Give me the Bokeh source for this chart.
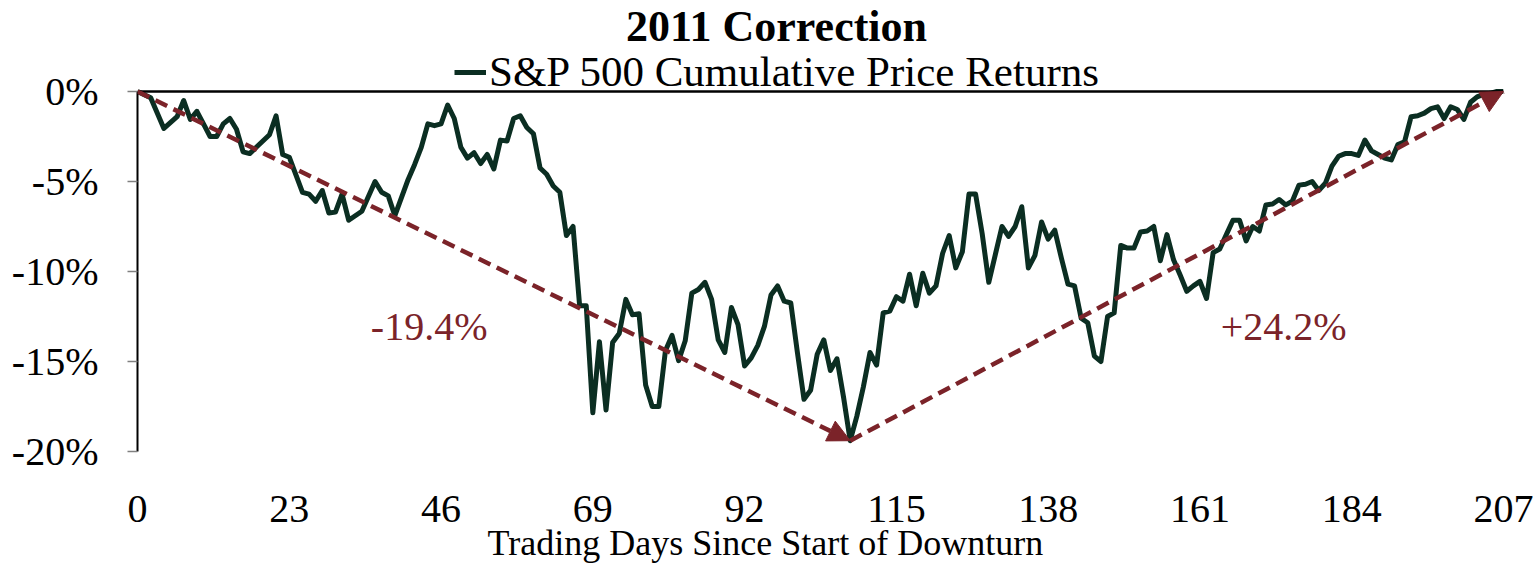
import numpy as np
from bokeh.plotting import figure
from bokeh.models import Range1d, FixedTicker, Span, Label, Arrow, NormalHead, Legend, LegendItem, Title
from bokeh.embed import file_html
from bokeh.resources import INLINE

# ---------------- data ----------------
days = [0, 2, 4, 6, 7, 8, 9, 10, 11, 12, 13, 14, 15, 16, 17, 18, 20, 21, 22, 23,
        25, 26, 27, 28, 29, 30, 31, 32, 34, 36, 37, 38, 39, 41, 42, 43, 44, 45, 46, 47,
        48, 49, 50, 51, 52, 53, 54, 55, 56, 57, 58, 59, 60, 61, 62, 63, 64, 65, 66, 67,
        68, 69, 70, 71, 72, 73, 74, 75, 76, 77, 78, 79, 80, 81, 82, 83, 84, 85, 86, 87,
        88, 89, 90, 91, 92, 93, 94, 95, 96, 97, 98, 99, 100, 101, 102, 103, 104, 105, 106, 107,
        108, 109, 110, 111, 112, 113, 114, 115, 116, 117, 118, 119, 120, 121, 122, 123, 124, 125, 126, 127,
        128, 129, 130, 131, 132, 133, 134, 135, 136, 137, 138, 139, 140, 141, 142, 143, 144, 145, 146, 147,
        148, 149, 150, 151, 152, 153, 154, 155, 156, 157, 158, 159, 160, 161, 162, 163, 164, 165, 166, 167,
        168, 169, 170, 171, 172, 173, 174, 175, 176, 177, 178, 179, 180, 181, 182, 183, 184, 185, 186, 187,
        188, 189, 190, 191, 192, 193, 194, 195, 196, 197, 198, 199, 200, 201, 202, 203, 204, 205, 206, 207]
returns_pct = [0.0, -0.35, -2.05, -1.4, -0.5, -1.55, -1.1, -1.8, -2.5, -2.5, -1.8, -1.5, -2.1, -3.35, -3.45, -3.1, -2.4, -1.35, -3.5, -3.65,
               -5.6, -5.7, -6.1, -5.5, -6.75, -6.7, -5.7, -7.15, -6.65, -5.0, -5.6, -5.8, -6.9, -4.9, -4.05, -3.1, -1.8, -1.9, -1.8, -0.75,
               -1.5, -3.1, -3.7, -3.4, -4.0, -3.5, -4.3, -2.7, -2.75, -1.5, -1.35, -2.0, -2.35, -4.25, -4.6, -5.25, -5.6, -8.0, -7.5, -11.9,
               -11.9, -17.85, -13.9, -17.7, -13.95, -13.45, -11.55, -12.4, -12.35, -16.3, -17.5, -17.5, -14.4, -13.55, -14.95, -13.85, -11.2, -11.0, -10.6, -11.55,
               -13.8, -14.5, -12.0, -12.95, -15.25, -14.8, -14.1, -13.05, -11.3, -10.8, -11.65, -11.75, -14.5, -17.1, -16.6, -14.6, -13.8, -15.5, -14.85, -17.0,
               -19.4, -18.05, -16.4, -14.5, -15.2, -12.3, -12.2, -11.4, -11.65, -10.15, -11.9, -10.1, -11.2, -10.8, -9.0, -8.0, -9.8, -8.9, -5.7, -5.7,
               -7.9, -10.6, -9.05, -7.5, -8.05, -7.5, -6.4, -9.8, -9.1, -7.25, -8.2, -7.7, -9.25, -10.7, -10.8, -12.6, -12.85, -14.7, -15.0, -12.5,
               -12.3, -8.55, -8.7, -8.7, -7.8, -7.75, -7.5, -9.4, -7.95, -9.35, -10.2, -11.1, -10.8, -10.55, -11.5, -8.95, -8.75, -7.95, -7.15, -7.15,
               -8.3, -7.5, -7.75, -6.3, -6.25, -6.0, -6.3, -6.1, -5.2, -5.15, -5.0, -5.5, -5.1, -4.15, -3.6, -3.45, -3.45, -3.55, -2.7, -3.3,
               -3.5, -3.7, -3.8, -2.95, -2.8, -1.4, -1.35, -1.2, -0.95, -0.85, -1.5, -0.85, -1.0, -1.55, -0.6, -0.3, -0.15, -0.1, 0.0, 0.0]

x_ticks = [0, 23, 46, 69, 92, 115, 138, 161, 184, 207]
y_ticks = [-20, -15, -10, -5, 0]
y_tick_labels = ["-20%", "-15%", "-10%", "-5%", "0%"]

title_text = "2011 Correction"
series_name = "S&P 500 Cumulative Price Returns"
x_title = "Trading Days Since Start of Downturn"
drop_text = "-19.4%"
rise_text = "+24.2%"

# ---------------- styles ----------------
FONT = "Liberation Serif"
LINE_COLOR = "#0B2E22"
ARROW_COLOR = "#7B2329"

# frame spans from the very top of the figure (room for title + legend inside it)
p = figure(width=1536, height=564, x_range=Range1d(0, 207), y_range=Range1d(-20, 5.056),
           output_backend="svg", toolbar_location=None, title=None,
           min_border_left=137, min_border_right=33, min_border_top=0, min_border_bottom=113)
p.outline_line_color = None
p.xgrid.visible = False
p.ygrid.visible = False
p.background_fill_color = "white"
p.border_fill_color = "white"

# y axis
ya = p.yaxis[0]
ya.ticker = FixedTicker(ticks=y_ticks)
ya.major_label_overrides = {t: s for t, s in zip(y_ticks, y_tick_labels)}
ya.bounds = (y_ticks[0], y_ticks[-1])
ya.axis_line_color = "black"
ya.axis_line_width = 2
ya.major_tick_out = 10
ya.major_tick_in = 0
ya.major_tick_line_color = "#808080"
ya.major_tick_line_width = 1.5
ya.minor_tick_line_color = None
ya.major_label_standoff = 29
ya.major_label_text_font = FONT
ya.major_label_text_font_size = "40px"
ya.major_label_text_color = "black"

# x axis
xa = p.xaxis[0]
xa.ticker = FixedTicker(ticks=x_ticks)
xa.axis_line_color = None
xa.major_tick_line_color = None
xa.minor_tick_line_color = None
xa.major_label_standoff = 38
xa.major_label_text_font = FONT
xa.major_label_text_font_size = "40px"
xa.major_label_text_color = "black"

# x axis title (left-aligned so it sits where the reference has it)
p.add_layout(Title(text=x_title, align="left", offset=350, standoff=-8,
                   text_font=FONT, text_font_size="36px", text_font_style="normal",
                   text_color="black"), "below")

# horizontal axis line at 0%
p.add_layout(Span(location=0, dimension="width", line_color="black", line_width=2.5))

# data line
r = p.line(days, returns_pct, line_color=LINE_COLOR, line_width=5, line_join="round")

# arrows: start -> trough -> end
i_min = int(np.argmin(returns_pct))
for (x0, y0, x1, y1) in [(days[0], returns_pct[0], days[i_min], returns_pct[i_min]),
                         (days[i_min], returns_pct[i_min], days[-1], returns_pct[-1])]:
    p.add_layout(Arrow(x_start=x0, y_start=y0, x_end=x1, y_end=y1,
                       line_color=ARROW_COLOR, line_width=4.5, line_dash="13 7",
                       end=NormalHead(size=22, fill_color=ARROW_COLOR, line_color=ARROW_COLOR)))

# percentage labels
p.add_layout(Label(x=44.2, y=-13.06, text=drop_text, text_align="center", text_baseline="middle",
                   text_color=ARROW_COLOR, text_font=FONT, text_font_size="40px"))
p.add_layout(Label(x=173.7, y=-13.06, text=rise_text, text_align="center", text_baseline="middle",
                   text_color=ARROW_COLOR, text_font=FONT, text_font_size="40px"))

# chart title
p.add_layout(Label(x=639, y=425, x_units="screen", y_units="screen", text=title_text,
                   text_align="center", text_baseline="alphabetic", text_color="black",
                   text_font=FONT, text_font_size="44px", text_font_style="bold"))

# legend
legend = Legend(items=[LegendItem(label=series_name, renderers=[r])], location=(317, 355),
                orientation="horizontal", padding=0, margin=0, spacing=0,
                glyph_width=32, glyph_height=20, label_standoff=3,
                label_text_font=FONT, label_text_font_size="43px", label_text_color="black",
                background_fill_alpha=0, border_line_alpha=0)
p.add_layout(legend)

open("out.html", "w").write(file_html(p, INLINE))
